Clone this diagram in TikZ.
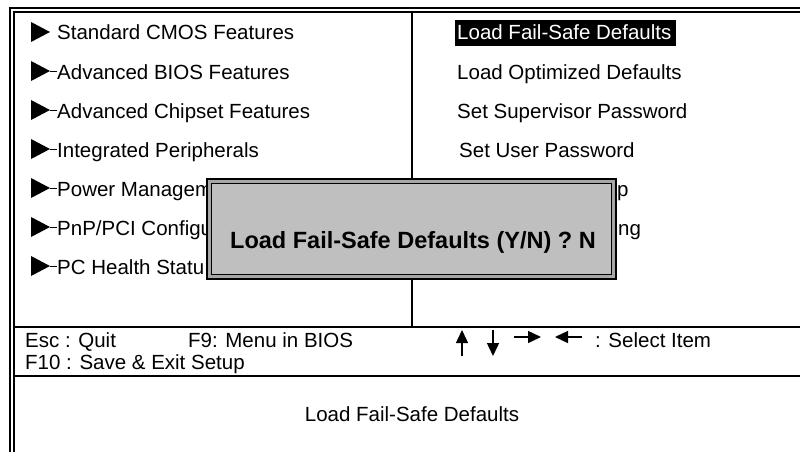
\documentclass[tikz,border=0pt]{standalone}
\usepackage{fontspec}
\setmainfont{Liberation Sans}
\usetikzlibrary{arrows.meta}
\tikzset{
  menutext/.style={anchor=base west, inner sep=0pt, font=\fontsize{20.5}{23}\selectfont},
  framerule/.style={line width=2pt, black},
  seprule/.style={line width=1.6pt, black},
  tri/.style={fill=black, draw=none},
  tail/.style={line width=0.9pt, black},
  keyarrow/.style={line width=1.4pt, -{Triangle[length=13pt,width=12pt]}},
  dlgtext/.style={anchor=base, inner sep=0pt, font=\fontsize{23.5}{26}\selectfont\bfseries},
}
\begin{document}
\begin{tikzpicture}[x=1pt,y=-1pt]
\useasboundingbox (0,0) rectangle (800,452);
\fill[white] (0,0) rectangle (800,452);
% outer double frame
\draw[framerule] (10,452) -- (10,8) -- (800,8);
\draw[framerule] (14,452) -- (14,12) -- (800,12);
% separators
\draw[seprule] (412,12) -- (412,327);
\draw[seprule] (14,327) -- (800,327);
\draw[seprule] (14,376) -- (800,376);
% left column
\foreach \i/\t/\tl in {1/{Standard CMOS Features}/0,2/{Advanced BIOS Features}/1,3/{Advanced Chipset Features}/1,4/{Integrated Peripherals}/1,5/{Power Managem}/1,6/{PnP/PCI Configu}/1,7/{PC Health Statu}/1}{
  \pgfmathsetmacro{\b}{40+39*(\i-1)}
  \fill[tri] (31,\b-18) -- (31,\b+2) -- (50,\b-8) -- cycle;
  \ifnum\tl=1 \draw[tail] (50,\b-8) -- (57,\b-8); \fi
  \node[menutext] (L\i) at (57,\b) {\t};
}
% right column
\fill[black] (455,20) rectangle (676,46);
\node[menutext, text=white] (R1) at (457,40) {Load Fail-Safe Defaults};
\node[menutext] (R2) at (457,79) {Load Optimized Defaults};
\node[menutext] (R3) at (457,118) {Set Supervisor Password};
\node[menutext] (R4) at (459,157) {Set User Password};
\node[menutext] (R5) at (617,196) {p};
\node[menutext] (R6) at (618,235) {ng};
% key help
\node[menutext] (esc) at (25,347) {Esc : Quit};
\node[menutext] (f9) at (188,347) {F9: Menu in BIOS};
\node[menutext] (f10) at (25,369) {F10 : Save \& Exit Setup};
\coordinate (ua) at (462,356); \coordinate (ub) at (462,330);
\coordinate (da) at (493,330); \coordinate (db) at (493,356);
\coordinate (ra) at (514,337); \coordinate (rb) at (541,337);
\coordinate (la) at (582,337); \coordinate (lb) at (555,337);
\draw[keyarrow] (ua) -- (ub);
\draw[keyarrow] (da) -- (db);
\draw[keyarrow] (ra) -- (rb);
\draw[keyarrow] (la) -- (lb);
\node[menutext] (sel) at (595,347) {: Select Item};
% help line
\node[menutext, anchor=base] (help) at (412,421) {Load Fail-Safe Defaults};
% dialog
\fill[gray!70] (207,179) rectangle (616,279);
\fill[black!25] (211,183) rectangle (612,275);
\draw[line width=2pt] (207,179) rectangle (616,279);
\draw[line width=1.4pt] (211.5,183.5) rectangle (611.5,274.5);
\node[dlgtext] (dlg) at (413,248) {Load Fail-Safe Defaults (Y/N) ? N};
\end{tikzpicture}
\end{document}
